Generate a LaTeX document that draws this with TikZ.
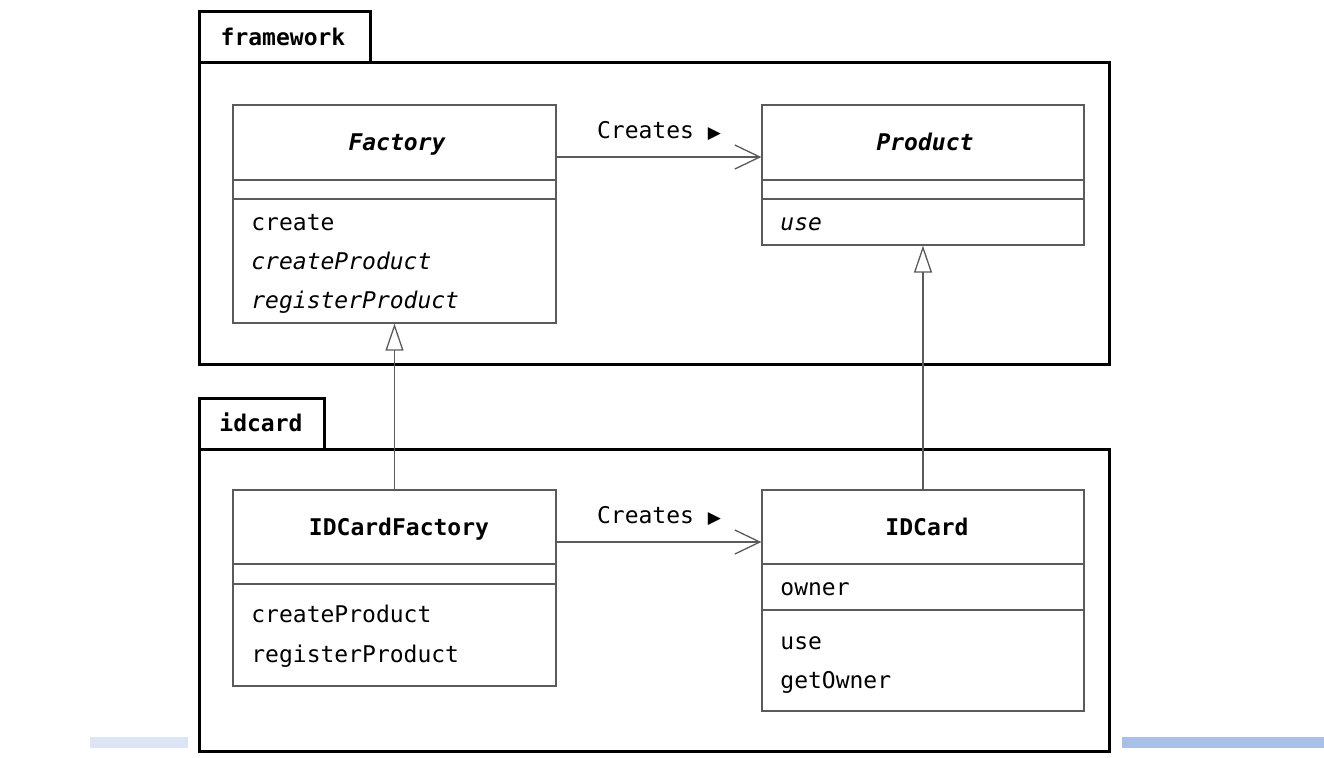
\documentclass[tikz,border=0pt]{standalone}
\usepackage{fontspec}
\setmainfont{DejaVu Sans Mono}[BoldFont={DejaVu Sans Mono Bold}, ItalicFont={DejaVu Sans Mono Oblique}, BoldItalicFont={DejaVu Sans Mono Bold Oblique}]
\newfontfamily\symfont{DejaVu Sans}
\usetikzlibrary{arrows.meta, fit}
\definecolor{linegray}{RGB}{90,90,90}
\definecolor{barlight}{RGB}{221,228,244}
\definecolor{barblue}{RGB}{169,191,232}
\newcommand{\umlfont}{\fontsize{11.5}{14}\selectfont}

\begin{document}
\begin{tikzpicture}[x=0.5pt, y=-0.5pt,
  pkgbox/.style={draw, line width=1.5pt, inner sep=0pt},
  classbox/.style={draw=linegray, line width=0.65pt, inner sep=0pt},
  sep/.style={draw=linegray, line width=0.65pt},
  txt/.style={font=\umlfont, text height=9.5pt, text depth=1.5pt, inner sep=0pt},
  member/.style={txt, anchor=west},
  abstractop/.style={member, font=\umlfont\itshape},
  cname/.style={txt, font=\umlfont\bfseries},
  abstractname/.style={txt, font=\umlfont\bfseries\itshape},
  assoc/.style={draw=linegray, line width=0.65pt, -{Straight Barb[length=12.5pt, width=12pt]}},
  inherit/.style={draw=linegray, line width=0.65pt, -{Triangle[open, length=13.5pt, width=9pt]}}]

 \useasboundingbox (0,0) rectangle (1324,757);

 % bars at the bottom
 \fill[barlight] (90,737) rectangle (188,748);
 \fill[barblue] (1122,737) rectangle (1324,748);

 % packages
 \node[pkgbox, fit={(199,11) (370,62)}] (frameworktab) {};
 \node[pkgbox, fit={(199,62) (1109,364)}] (framework) {};
 \node[cname] (frameworklbl) at (283,37) {framework};
 \node[pkgbox, fit={(199,398) (324,449)}] (idcardtab) {};
 \node[pkgbox, fit={(199,449) (1109,751)}] (idcardpkg) {};
 \node[cname] (idcardlbl) at (261,423) {idcard};

 % Factory
 \node[classbox, fit={(233,105) (556,323)}] (factory) {};
 \draw[sep] (233,180) -- (556,180);
 \draw[sep] (233,199) -- (556,199);
 \node[abstractname] (factoryname) at (397,142) {Factory};
 \node[member] (factoryop1) at (251,222) {create};
 \node[abstractop] (factoryop2) at (251,261) {createProduct};
 \node[abstractop] (factoryop3) at (251,300) {registerProduct};

 % Product
 \node[classbox, fit={(762,105) (1084,245)}] (product) {};
 \draw[sep] (762,180) -- (1084,180);
 \draw[sep] (762,199) -- (1084,199);
 \node[abstractname] (productname) at (925,142) {Product};
 \node[abstractop] (productop1) at (780,222) {use};

 % IDCardFactory
 \node[classbox, fit={(233,490) (556,686)}] (idfactory) {};
 \draw[sep] (233,564) -- (556,564);
 \draw[sep] (233,584) -- (556,584);
 \node[cname] (idfactoryname) at (399,527) {IDCardFactory};
 \node[member] (idfactoryop1) at (251,614) {createProduct};
 \node[member] (idfactoryop2) at (251,654) {registerProduct};

 % IDCard
 \node[classbox, fit={(762,490) (1084,711)}] (idcard) {};
 \draw[sep] (762,564) -- (1084,564);
 \draw[sep] (762,610) -- (1084,610);
 \node[cname] (idcardname) at (927,527) {IDCard};
 \node[member] (idcardattr1) at (780,587) {owner};
 \node[member] (idcardop1) at (780,641) {use};
 \node[member] (idcardop2) at (780,680) {getOwner};

 % associations
 \coordinate (c1) at (0,157);
 \coordinate (c2) at (0,542);
 \draw[assoc] (factory.east |- c1) -- (product.west |- c1);
 \node[txt] (creates1) at (659,130) {Creates {\symfont\fontsize{8.5}{10}\selectfont ▶}};
 \draw[assoc] (idfactory.east |- c2) -- (idcard.west |- c2);
 \node[txt] (creates2) at (659,515) {Creates {\symfont\fontsize{8.5}{10}\selectfont ▶}};

 % generalizations
 \draw[inherit] (idfactory.north) -- (factory.south);
 \draw[inherit] (idcard.north) -- (product.south);

\end{tikzpicture}
\end{document}
